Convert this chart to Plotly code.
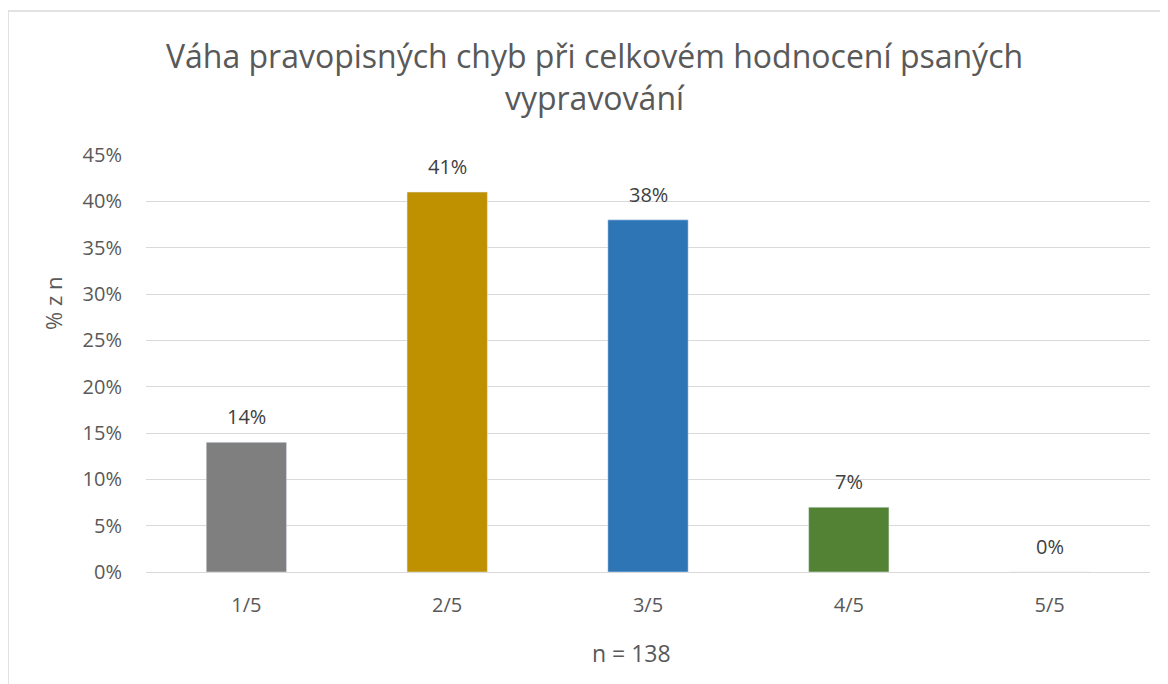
import plotly.graph_objects as go

categories = ["1/5", "2/5", "3/5", "4/5", "5/5"]
values = [0.14, 0.41, 0.38, 0.07, 0.0]
colors = ["#7F7F7F", "#BF9000", "#2E75B6", "#548235", "#7F7F7F"]
labels = ["14%", "41%", "38%", "7%", "0%"]

FONT = "Open Sans"
TXT = "#595959"

# page offset of the plotly div (body margin)
OFF = 8
PX0, PX1, PY0, PY1 = 146, 1150, 155, 572  # plot area in page px


def px_to_paper_x(px):
    return (px - PX0) / (PX1 - PX0)


def px_to_paper_y(py):
    return (PY1 - py) / (PY1 - PY0)


fig = go.Figure(go.Bar(
    x=categories, y=values, marker_color=colors, width=0.4,
    hoverinfo="skip",
))

for c, v, t in zip(categories, values, labels):
    fig.add_annotation(
        x=c, y=v, text=t, showarrow=False, yanchor="bottom", yshift=10,
        font=dict(family=FONT, size=20, color="#404040"),
    )

W, H = 1160, 676
fig.update_layout(
    width=W, height=H,
    margin=dict(l=PX0 - OFF, r=OFF + W - PX1, t=PY0 - OFF, b=OFF + H - PY1),
    paper_bgcolor="white", plot_bgcolor="white",
    showlegend=False,
    title=dict(
        text="Váha pravopisných chyb při celkovém hodnocení psaných<br>vypravování",
        x=(594.5 - OFF) / W, xanchor="center", y=1 - 60 / H, yanchor="middle",
        yref="container",
        font=dict(family=FONT, size=32, color=TXT),
    ),
    xaxis=dict(
        tickfont=dict(family=FONT, size=20, color=TXT),
        ticklabelstandoff=19,
        showline=False, showgrid=False,
    ),
    yaxis=dict(
        range=[0, 0.45], dtick=0.05, tickformat=".0%",
        tickfont=dict(family=FONT, size=20, color=TXT),
        ticklabelstandoff=23,
        gridcolor="#D9D9D9", gridwidth=1.3, zeroline=True, zerolinecolor="#D9D9D9", zerolinewidth=1.3,
    ),
    shapes=[dict(
        type="rect", xref="paper", yref="paper",
        x0=px_to_paper_x(8), x1=px_to_paper_x(1185),
        y0=px_to_paper_y(700), y1=px_to_paper_y(11),
        line=dict(color="#D9D9D9", width=1.5), layer="below",
    )],
)

fig.add_annotation(
    xref="paper", yref="paper", x=px_to_paper_x(53), y=px_to_paper_y(304),
    text="% z n", textangle=-90, showarrow=False, xanchor="center", yanchor="middle",
    font=dict(family=FONT, size=22, color=TXT),
)
fig.add_annotation(
    xref="paper", yref="paper", x=px_to_paper_x(631), y=px_to_paper_y(653),
    text="n = 138", showarrow=False, xanchor="center", yanchor="middle",
    font=dict(family=FONT, size=23, color=TXT),
)

fig.write_html("out.html")
